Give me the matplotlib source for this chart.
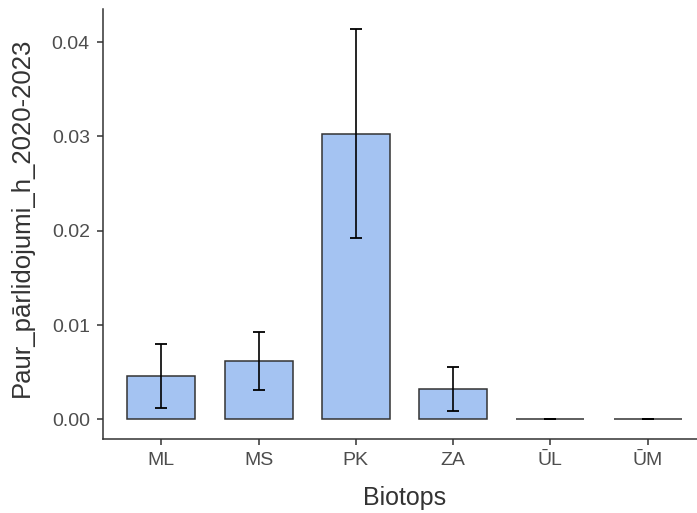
import matplotlib.pyplot as plt
import numpy as np

plt.rcParams['font.family'] = ['Liberation Sans', 'DejaVu Sans']

# Vidējās vērtības un standartkļūdas pa biotopiem
biotopi = ['ML', 'MS', 'PK', 'ZA', 'ŪL', 'ŪM']
videjais = [0.0046, 0.0062, 0.0303, 0.0032, 0.0, 0.0]
kluda = [0.0034, 0.0031, 0.0111, 0.0023, 0.0, 0.0]

fig = plt.figure(figsize=(6.97, 5.13), dpi=100)
ax = fig.add_axes([0.1478, 0.1446, 0.865, 0.837])

x = np.arange(len(biotopi))
ax.bar(x, videjais, width=0.7, color='#A4C3F2', edgecolor='#333333',
       linewidth=1.1, zorder=2)
ax.errorbar(x, videjais, yerr=kluda, fmt='none', ecolor='black',
            elinewidth=1.2, capsize=4.5, capthick=1.3, zorder=3)

ax.set_xlim(-0.6, 5.6)
ymax = max(np.array(videjais) + np.array(kluda))
ax.set_ylim(-0.05 * ymax, 1.05 * ymax)
ax.set_xticks(x)
ax.set_xticklabels(biotopi)
ax.set_yticks([0, 0.01, 0.02, 0.03, 0.04])
ax.set_yticklabels(['0.00', '0.01', '0.02', '0.03', '0.04'])

for s in ['top', 'right']:
    ax.spines[s].set_visible(False)
for s in ['left', 'bottom']:
    ax.spines[s].set_color('#333333')
    ax.spines[s].set_linewidth(1.1)

ax.tick_params(axis='both', length=4.5, width=1.1, color='#333333',
               labelcolor='#4D4D4D', labelsize=14)
ax.tick_params(axis='x', pad=5)
ax.tick_params(axis='y', pad=5)
ax.set_xlabel('Biotops', fontsize=18, color='#333333', labelpad=12)
ax.set_ylabel('Paur_pārlidojumi_h_2020-2023', fontsize=18.5, color='#333333',
              labelpad=9)
ax.yaxis.set_label_coords(-0.115, 0.515)

fig.savefig('out.png', dpi=100)
